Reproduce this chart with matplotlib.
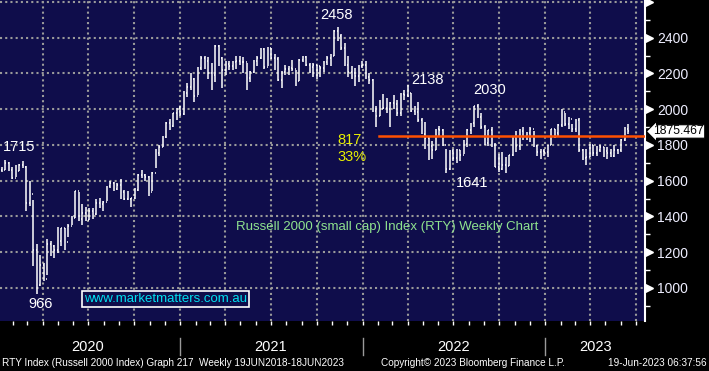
import numpy as np
import pandas as pd
import matplotlib
matplotlib.use("Agg")
import matplotlib.pyplot as plt
import matplotlib.dates as mdates
import matplotlib.transforms as mtransforms
from matplotlib.collections import LineCollection

plt.rcParams['font.family'] = ['Liberation Sans', 'DejaVu Sans']

# weekly bars, Friday week ends, 27 Dec 2019 .. 16 Jun 2023
weeks = pd.date_range('2019-12-27', periods=182, freq='W-FRI')

close = [
    1676,
    # 2020
    1660, 1658, 1700, 1662, 1614,
    1657, 1688, 1678, 1476,
    1523, 1210, 1014, 1131,
    1052, 1246, 1232, 1213,
    1260, 1336, 1256, 1349, 1394,
    1540, 1388, 1418, 1378,
    1431, 1415, 1474, 1472, 1480,
    1568, 1587, 1554, 1577,
    1536, 1497, 1500, 1501,
    1549, 1630, 1633, 1619, 1538,
    1644, 1755, 1786, 1845,
    1925, 1905, 1977, 2004, 1975,
    # 2021
    2091, 2124, 2168, 2073,
    2233, 2289, 2268, 2201,
    2192, 2352, 2286, 2221,
    2254, 2243, 2263, 2271, 2266,
    2264, 2172, 2207, 2268,
    2286, 2338, 2237, 2345,
    2289, 2280, 2163, 2210, 2226,
    2232, 2223, 2156, 2277,
    2292, 2249, 2237, 2248,
    2241, 2233, 2265, 2287, 2297,
    2437, 2411, 2340, 2245,
    2206, 2200, 2183, 2241, 2245,
    # 2022
    2179, 2162, 1988, 1962,
    2003, 2009, 1999, 2035,
    2027, 1976, 2086, 2077,
    2092, 1990, 1985, 1941, 1864,
    1839, 1792, 1773, 1888,
    1883, 1800, 1665, 1765,
    1728, 1769, 1745, 1806, 1885,
    1921, 2016, 1957, 1899,
    1811, 1882, 1798, 1679, 1664,
    1686, 1682, 1742, 1847,
    1796, 1880, 1850, 1869,
    1892, 1796, 1763, 1765, 1761,
    # 2023
    1797, 1887, 1867, 1911,
    1985, 1918, 1946, 1890,
    1940, 1773, 1725, 1735, 1802,
    1754, 1769, 1791, 1768,
    1757, 1740, 1773, 1774,
    1830, 1889, 1875.467,
]

high = [
    1680,
    1677, 1675, 1715, 1704, 1675,
    1688, 1693, 1712, 1680,
    1597, 1494, 1245, 1183,
    1140, 1271, 1260, 1240,
    1339, 1336, 1335, 1355, 1400,
    1545, 1535, 1470, 1455,
    1448, 1450, 1500, 1505, 1488,
    1570, 1600, 1590, 1585,
    1610, 1550, 1545, 1505,
    1560, 1635, 1660, 1640, 1625,
    1650, 1780, 1800, 1850,
    1930, 1945, 1980, 2006, 2020,
    2100, 2146, 2200, 2175,
    2235, 2300, 2296, 2290,
    2260, 2361, 2360, 2290,
    2270, 2270, 2270, 2295, 2300,
    2290, 2260, 2215, 2275,
    2300, 2345, 2345, 2350,
    2340, 2310, 2290, 2215, 2250,
    2240, 2275, 2220, 2280,
    2300, 2295, 2260, 2260,
    2250, 2240, 2270, 2300, 2310,
    2442, 2458, 2420, 2370,
    2300, 2240, 2230, 2250, 2270,
    2270, 2200, 2170, 2020,
    2050, 2085, 2060, 2040,
    2080, 2050, 2090, 2110,
    2138, 2090, 2020, 2040, 1950,
    1930, 1850, 1820, 1890,
    1905, 1890, 1780, 1770,
    1780, 1780, 1770, 1830, 1890,
    1925, 2020, 2030, 1980,
    1910, 1885, 1900, 1810, 1750,
    1760, 1730, 1745, 1850,
    1880, 1890, 1900, 1870,
    1900, 1880, 1800, 1780, 1780,
    1800, 1890, 1890, 1920,
    2000, 1980, 1955, 1920,
    1945, 1950, 1780, 1775, 1805,
    1800, 1795, 1800, 1790,
    1790, 1780, 1800, 1780,
    1835, 1900, 1915,
]

low = [
    1660,
    1652, 1650, 1660, 1655, 1610,
    1618, 1655, 1670, 1432,
    1459, 1120, 966, 1011,
    1040, 1075, 1180, 1166,
    1197, 1236, 1210, 1285, 1350,
    1390, 1375, 1350, 1375,
    1378, 1385, 1410, 1450, 1432,
    1485, 1560, 1540, 1550,
    1500, 1490, 1490, 1455,
    1495, 1545, 1615, 1600, 1515,
    1545, 1670, 1740, 1790,
    1840, 1885, 1900, 1940, 1960,
    1970, 2070, 2110, 2040,
    2080, 2220, 2225, 2170,
    2110, 2150, 2240, 2120,
    2190, 2220, 2220, 2225, 2250,
    2200, 2110, 2150, 2200,
    2240, 2280, 2225, 2240,
    2280, 2220, 2160, 2120, 2190,
    2190, 2215, 2130, 2160,
    2265, 2240, 2200, 2180,
    2170, 2180, 2210, 2250, 2240,
    2300, 2380, 2330, 2240,
    2180, 2170, 2130, 2150, 2230,
    2170, 2140, 1985, 1900,
    1960, 2000, 1980, 1900,
    2000, 1960, 1960, 2050,
    2070, 1985, 1970, 1930, 1860,
    1780, 1715, 1720, 1770,
    1850, 1795, 1641, 1660,
    1710, 1700, 1710, 1750, 1790,
    1860, 1900, 1950, 1890,
    1800, 1795, 1790, 1675, 1650,
    1660, 1645, 1680, 1740,
    1760, 1770, 1830, 1830,
    1815, 1790, 1740, 1720, 1740,
    1730, 1800, 1840, 1845,
    1900, 1905, 1890, 1875,
    1875, 1760, 1715, 1690, 1730,
    1740, 1740, 1760, 1730,
    1720, 1735, 1730, 1750,
    1760, 1820, 1860,
]

# opens taken as previous week's close
opens = [1670] + close[:-1]

navy = '#0f0d4b'
fig = plt.figure(figsize=(7.09, 3.71), dpi=100, facecolor='black')
ax = fig.add_axes([0, 50 / 371, 645 / 709, 321 / 371])
ax.set_facecolor(navy)

x = mdates.date2num(weeks)
w = 1.8
segs = []
for xi, o, h, l, c in zip(x, opens, high, low, close):
    segs.append([(xi, l), (xi, h)])
    segs.append([(xi - w, o), (xi, o)])
    segs.append([(xi, c), (xi + w, c)])
ax.add_collection(LineCollection(segs, colors='white', linewidths=1.1, zorder=3))

ax.set_xlim(mdates.datestr2num('2020-01-07'), mdates.datestr2num('2023-07-20'))
ax.set_ylim(815, 2611)

# grid
for d in pd.date_range('2020-04-01', '2023-07-01', freq='QS'):
    ax.axvline(d, color='#9a9a9a', lw=1.5, ls=(0, (1, 1.5)), zorder=1)
for v in range(1000, 2601, 200):
    ax.axhline(v, color='#9a9a9a', lw=1.5, ls=(0, (1, 1.5)), zorder=1)

# orange line
ax.plot([mdates.datestr2num('2022-02-02'), mdates.datestr2num('2023-07-20')], [1852, 1852],
        color='#ff5000', lw=1.8, zorder=4)

# spines / ticks
for s in ['top', 'left', 'bottom']:
    ax.spines[s].set_visible(False)
ax.spines['right'].set_color('white')
ax.spines['right'].set_linewidth(1.5)

ax.yaxis.tick_right()
ax.set_yticks(range(1000, 2401, 200))
ax.set_yticks(range(900, 2601, 100), minor=True)
ax.tick_params(axis='y', which='major', length=0, pad=9, labelsize=10, labelcolor='#eeeeff')
ax.tick_params(axis='y', which='minor', length=3.5, width=1, color='white', direction='out')
ytrans = mtransforms.blended_transform_factory(ax.transAxes, ax.transData)
for v in range(1000, 2601, 200):
    ax.plot([1.006], [v], marker='>', ms=6, color='white', transform=ytrans, clip_on=False)

ax.xaxis.set_major_locator(mdates.MonthLocator(bymonth=[1, 4, 7, 10]))
ax.xaxis.set_minor_locator(mdates.MonthLocator())
ax.tick_params(axis='x', which='both', length=3, width=1, color='white', direction='out',
               labelbottom=False)

xtrans = mtransforms.blended_transform_factory(ax.transData, ax.transAxes)
years = ['2020', '2021', '2022', '2023']
year_mid = ['2020-07-01', '2021-07-02', '2022-07-02', '2023-04-12']
for yr, mid in zip(years, year_mid):
    ax.text(mdates.datestr2num(mid), -0.081, yr, transform=xtrans, color='white',
            fontsize=10.5, ha='center', va='center')
for yr in ['2021-01-01', '2022-01-01', '2023-01-01']:
    ax.plot([mdates.datestr2num(yr)] * 2, [-0.053, -0.106], color='#9a9a9a', lw=1,
            transform=xtrans, clip_on=False)

# value annotations
ann = [('1715', '2020-02-14', 1790), ('966', '2020-03-29', 911), ('2458', '2021-11-10', 2527),
       ('2138', '2022-05-11', 2163), ('2030', '2022-09-12', 2108), ('1641', '2022-08-09', 1587)]
for t, d, v in ann:
    ax.text(mdates.datestr2num(d), v, t, color='white', fontsize=10.5, ha='center', va='center')
ax.text(mdates.datestr2num('2021-12-06'), 1828, '817', color='#e8f000', fontsize=10.5,
        ha='center', va='center')
ax.text(mdates.datestr2num('2021-12-12'), 1733, '33%', color='#e8f000', fontsize=10.5,
        ha='center', va='center')

ax.text(0.600, 0.293, 'Russell 2000 (small cap) Index (RTY) Weekly Chart', transform=ax.transAxes,
        color='#8fe38f', fontsize=9.5, ha='center', va='center')
ax.text(0.257, 0.069, 'www.marketmatters.com.au', transform=ax.transAxes, color='#00e0f0',
        fontsize=9.5, ha='center', va='center',
        bbox=dict(boxstyle='square,pad=0.15', fc=navy, ec='white', lw=1.2))

# last price tag
ax.text(1.013, 1875.467, '1875.467', transform=ytrans, color='black', fontsize=8.8,
        ha='left', va='center', clip_on=False,
        bbox=dict(boxstyle='larrow,pad=0.06', fc='white', ec='black', lw=0.8))

# footer
fig.text(0.003, 0.022, 'RTY Index (Russell 2000 Index) Graph 217  Weekly 19JUN2018-18JUN2023',
         color='white', fontsize=7.2, ha='left', va='center')
fig.text(381 / 709, 0.022, 'Copyright\u00a9 2023 Bloomberg Finance L.P.', color='white',
         fontsize=7.2, ha='left', va='center')
fig.text(0.997, 0.022, '19-Jun-2023 06:37:56', color='white', fontsize=7.2, ha='right',
         va='center')

fig.savefig('out.png', dpi=100, facecolor='black')
